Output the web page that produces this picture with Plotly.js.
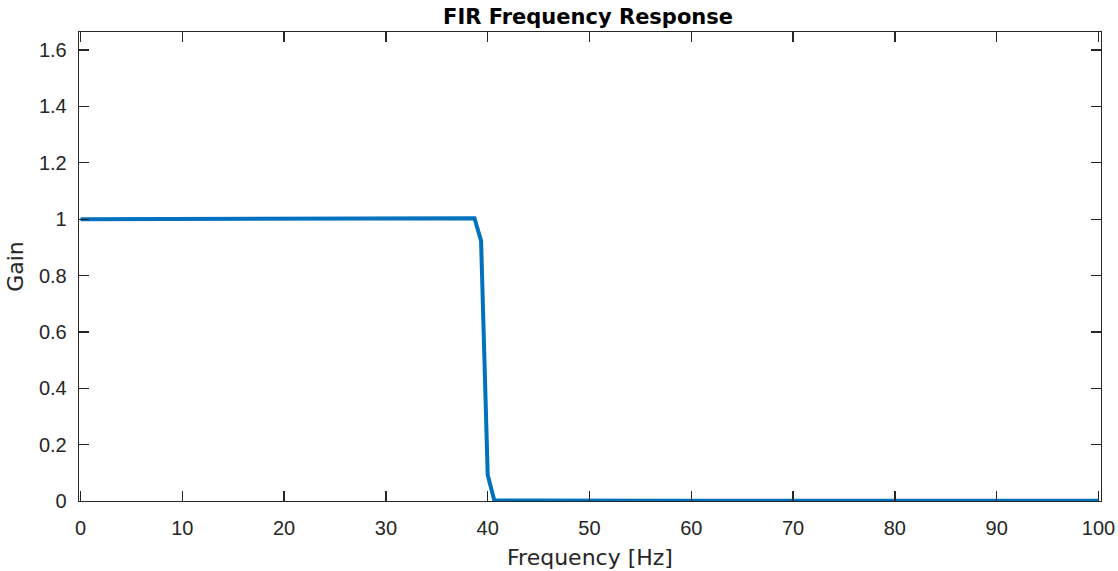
<!DOCTYPE html>
<html>
<head>
<meta charset="utf-8">
<script src="https://cdn.plot.ly/plotly-3.0.1.min.js"></script>
<style>html,body{margin:0;padding:0;background:#fff;}#chart{width:1118px;height:571px;}</style>
</head>
<body>
<div id="chart"></div>
<script>
const frequencyHz = [0, 10, 20, 30, 35, 38.7, 39.35, 40.0, 40.65, 45, 50, 60, 70, 80, 90, 100];
const gain = [1.0, 1.0, 1.0, 1.0, 1.001, 1.003, 0.923, 0.092, 0.002, 0.001, 0.001, 0.001, 0.001, 0.001, 0.001, 0.001];
const xTicks = [0, 10, 20, 30, 40, 50, 60, 70, 80, 90, 100];
const yTicks = [0, 0.2, 0.4, 0.6, 0.8, 1, 1.2, 1.4, 1.6];
const yTickText = ['0', '0.2', '0.4', '0.6', '0.8', '1', '1.2', '1.4', '1.6'];

const tickFont = 'Liberation Sans, Arial, Helvetica, sans-serif';
const labelFont = 'DejaVu Sans, Liberation Sans, sans-serif';
const axisCommon = {
  showgrid: false, zeroline: false, showline: true, mirror: 'ticks',
  linecolor: '#262626', linewidth: 1.3, ticks: 'inside', ticklen: 10,
  tickwidth: 1.3, tickcolor: '#262626',
  tickfont: {family: tickFont, size: 20, color: '#262626'}
};
Plotly.newPlot('chart', [{
  x: frequencyHz, y: gain, type: 'scatter', mode: 'lines',
  line: {color: '#0072BD', width: 4}
}], {
  width: 1118, height: 571,
  margin: {l: 79, r: 17, t: 32, b: 70},
  paper_bgcolor: '#fff', plot_bgcolor: '#fff',
  showlegend: false,
  title: {text: '<b>FIR Frequency Response</b>', font: {family: labelFont, size: 21, color: '#000'}, x: 0.526, xanchor: 'center', y: 0.97, yanchor: 'middle'},
  xaxis: Object.assign({}, axisCommon, {
    range: [-0.15, 100.25], tickvals: xTicks, ticktext: xTicks.map(String),
    ticklabelstandoff: 9,
    title: {text: 'Frequency [Hz]', font: {family: labelFont, size: 22, color: '#262626'}, standoff: 11}
  }),
  yaxis: Object.assign({}, axisCommon, {
    range: [0, 1.664], tickvals: yTicks, ticktext: yTickText,
    ticklabelstandoff: 7,
    title: {text: 'Gain', font: {family: labelFont, size: 22, color: '#262626'}, standoff: 9}
  })
}, {displayModeBar: false, staticPlot: true});
</script>
</body>
</html>
